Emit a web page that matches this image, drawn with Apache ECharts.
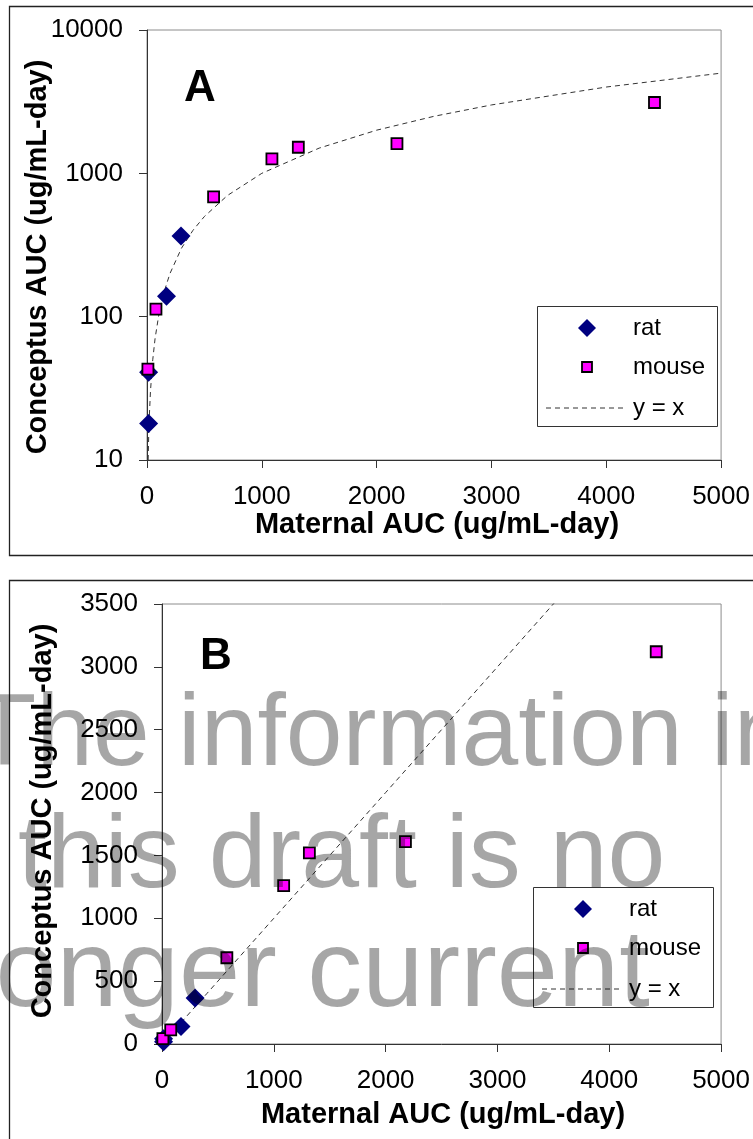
<!DOCTYPE html>
<html>
<head>
<meta charset="utf-8">
<script src="https://cdn.jsdelivr.net/npm/echarts@6/dist/echarts.min.js"></script>
<style>
  html, body { margin: 0; padding: 0; background: #fff; }
  #chart { width: 753px; height: 1139px; }
</style>
</head>
<body>
<div id="chart"></div>
<script>
// Maternal vs conceptus exposure (AUC, ug/mL-day)
const ratPoints = [[14, 18], [14, 41], [170, 139], [296, 366]];
const mousePoints = [[8, 43], [78, 113], [580, 686], [1088, 1260], [1318, 1520], [2177, 1610], [4420, 3120]];
// x positions of the y = x reference series
const identityX = [10, 15, 20, 30, 50, 70, 100, 150, 200, 300, 400, 500, 700, 1000, 1500, 2000, 2500, 3000, 4000, 5000];
const identityPoints = identityX.map(v => [v, v]);

// axis tick values
const xTicks = [0, 1000, 2000, 3000, 4000, 5000];
const logTicks = [10, 100, 1000, 10000];
const linTicks = [0, 500, 1000, 1500, 2000, 2500, 3000, 3500];

const legendNames = ['rat', 'mouse', 'y = x'];
const xTitle = 'Maternal AUC (ug/mL-day)';
const yTitle = 'Conceptus AUC (ug/mL-day)';
const panelLetters = ['A', 'B'];
const watermarkLines = ['The information in', 'this draft is no', 'longer current'];

const FONT = "'Liberation Sans', Arial, sans-serif";
const RAT_COLOR = '#000080';
const MOUSE_COLOR = '#ff00ff';

const chart = echarts.init(document.getElementById('chart'), null, { renderer: 'canvas' });

const plainNumber = v => String(Math.round(v));

function xAxisFor(gridIndex) {
  return {
    gridIndex, type: 'value',
    min: xTicks[0], max: xTicks[xTicks.length - 1], interval: xTicks[1] - xTicks[0],
    axisLine: { show: true, lineStyle: { color: '#333', width: 1 } },
    axisTick: { show: true, length: 8, lineStyle: { color: '#333' } },
    axisLabel: { fontFamily: FONT, fontSize: 26, color: '#000', margin: 24, formatter: plainNumber },
    splitLine: { show: false }
  };
}

const axisCommonY = {
  axisLine: { show: true, lineStyle: { color: '#333', width: 1 } },
  axisTick: { show: true, length: 8, lineStyle: { color: '#333' } },
  axisLabel: { fontFamily: FONT, fontSize: 26, color: '#000', margin: 24, formatter: plainNumber },
  splitLine: { show: false }
};

function seriesFor(idx) {
  return [
    {
      name: legendNames[2], type: 'line', xAxisIndex: idx, yAxisIndex: idx,
      data: identityPoints, symbol: 'none', smooth: false, clip: true, z: 2,
      lineStyle: { color: '#333', width: 1, type: [5, 4] }
    },
    {
      name: legendNames[0], type: 'scatter', xAxisIndex: idx, yAxisIndex: idx,
      data: ratPoints, symbol: 'diamond', symbolSize: [19, 19], z: 3,
      itemStyle: { color: RAT_COLOR, opacity: 1 }
    },
    {
      name: legendNames[1], type: 'scatter', xAxisIndex: idx, yAxisIndex: idx,
      data: mousePoints, symbol: 'rect', symbolSize: 11, z: 4,
      itemStyle: { color: MOUSE_COLOR, borderColor: '#000', borderWidth: 1.8, opacity: 1 }
    }
  ];
}

function legendBox(bx, by) {
  const els = [];
  els.push({ type: 'rect', z: 20, shape: { x: bx + 0.5, y: by + 0.5, width: 180, height: 120 },
    style: { fill: '#fff', stroke: '#333', lineWidth: 1 } });
  const iconX = bx + 50;
  els.push({ type: 'polygon', z: 21, shape: { points: [[iconX, by + 13], [iconX + 9, by + 22], [iconX, by + 31], [iconX - 9, by + 22]] },
    style: { fill: RAT_COLOR } });
  els.push({ type: 'rect', z: 21, shape: { x: iconX - 5, y: by + 56, width: 10, height: 10 },
    style: { fill: MOUSE_COLOR, stroke: '#000', lineWidth: 1.8 } });
  els.push({ type: 'line', z: 21, shape: { x1: bx + 9, y1: by + 102, x2: bx + 90, y2: by + 102 },
    style: { stroke: '#333', lineWidth: 1, lineDash: [5, 4] } });
  const tx = bx + 96;
  [22, 61, 102].forEach((oy, i) => {
    els.push({ type: 'text', z: 21, x: tx, y: by + oy,
      style: { text: legendNames[i], font: '24px ' + FONT, fill: '#000', align: 'left', verticalAlign: 'middle' } });
  });
  return els;
}

const graphics = [
  // panel frames
  { type: 'rect', z: 0, shape: { x: 9.5, y: 6.5, width: 800, height: 549 }, style: { fill: 'none', stroke: '#222', lineWidth: 1.3 } },
  { type: 'rect', z: 0, shape: { x: 9.5, y: 580.5, width: 800, height: 700 }, style: { fill: 'none', stroke: '#222', lineWidth: 1.3 } },
  // panel letters
  { type: 'text', z: 10, x: 200, y: 89, style: { text: panelLetters[0], font: 'bold 44px ' + FONT, fill: '#000', align: 'center', verticalAlign: 'middle' } },
  { type: 'text', z: 10, x: 216, y: 657, style: { text: panelLetters[1], font: 'bold 44px ' + FONT, fill: '#000', align: 'center', verticalAlign: 'middle' } },
  // axis titles
  { type: 'text', z: 10, x: 437, y: 525, style: { text: xTitle, font: 'bold 29px ' + FONT, fill: '#000', align: 'center', verticalAlign: 'middle' } },
  { type: 'text', z: 10, x: 443, y: 1115, style: { text: xTitle, font: 'bold 29px ' + FONT, fill: '#000', align: 'center', verticalAlign: 'middle' } },
  { type: 'text', z: 10, x: 38, y: 257, rotation: Math.PI / 2, style: { text: yTitle, font: 'bold 29px ' + FONT, fill: '#000', align: 'center', verticalAlign: 'middle' } },
  { type: 'text', z: 10, x: 43, y: 821, rotation: Math.PI / 2, style: { text: yTitle, font: 'bold 29px ' + FONT, fill: '#000', align: 'center', verticalAlign: 'middle' } }
].concat(legendBox(537, 306), legendBox(533, 887));

// translucent watermark drawn over panel B: [x, y, font size]
const wmPos = [[-26, 737, 102], [18, 858, 104], [-29, 976, 110]];
watermarkLines.forEach((line, i) => {
  graphics.push({ type: 'text', z: 100, zlevel: 1, x: wmPos[i][0], y: wmPos[i][1],
    style: { text: line, font: wmPos[i][2] + 'px ' + FONT, fill: 'rgba(0,0,0,0.35)', align: 'left', verticalAlign: 'middle' } });
});

const option = {
  animation: false,
  backgroundColor: '#fff',
  grid: [
    { left: 147, top: 30, width: 577, height: 430, show: true, borderColor: '#8c8c8c', borderWidth: 1, backgroundColor: 'transparent' },
    { left: 162, top: 604, width: 562, height: 440, show: true, borderColor: '#8c8c8c', borderWidth: 1, backgroundColor: 'transparent' }
  ],
  xAxis: [xAxisFor(0), xAxisFor(1)],
  yAxis: [
    Object.assign({ gridIndex: 0, type: 'log', logBase: 10, min: logTicks[0], max: logTicks[logTicks.length - 1] }, axisCommonY),
    Object.assign({ gridIndex: 1, type: 'value', min: linTicks[0], max: linTicks[linTicks.length - 1], interval: linTicks[1] - linTicks[0] }, axisCommonY)
  ],
  series: seriesFor(0).concat(seriesFor(1)),
  graphic: { elements: graphics }
};

chart.setOption(option);
</script>
</body>
</html>
